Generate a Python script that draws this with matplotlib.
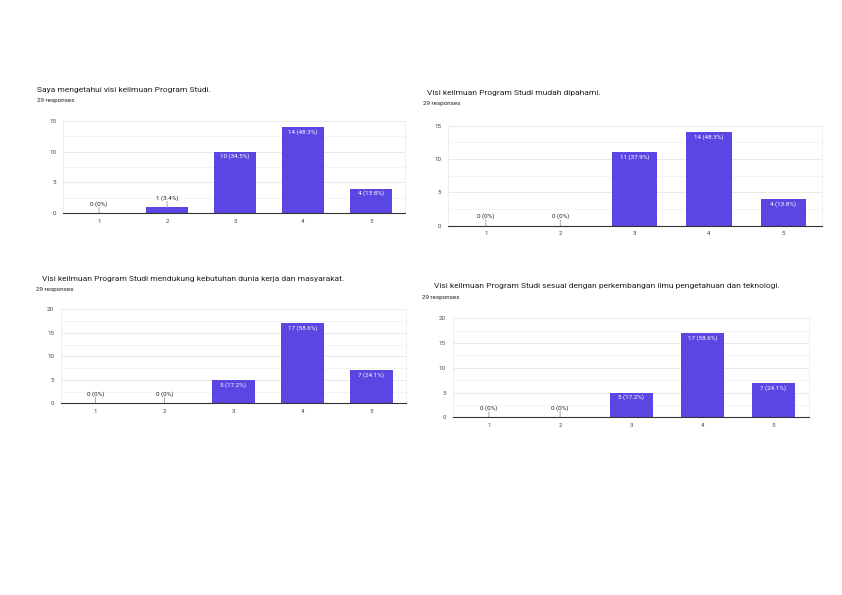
import matplotlib
matplotlib.use("Agg")
import matplotlib.pyplot as plt

W, H = 842, 595

# survey answers (scale 1-5), 29 responses each
categories = [1, 2, 3, 4, 5]
n_responses = 29
titles = [
    "Saya mengetahui visi keilmuan Program Studi.",
    "Visi keilmuan Program Studi mudah dipahami.",
    "Visi keilmuan Program Studi mendukung kebutuhan dunia kerja dan masyarakat.",
    "Visi keilmuan Program Studi sesuai dengan perkembangan ilmu pengetahuan dan teknologi.",
]
counts_q1 = [0, 1, 10, 14, 4]
counts_q2 = [0, 0, 11, 14, 4]
counts_q3 = [0, 0, 5, 17, 7]
counts_q4 = [0, 0, 5, 17, 7]
y_max = [15, 15, 20, 20]

# panel layout in pixels: plot box (left, right, top, bottom), title pos, subtitle pos, xlim
panels = [
    dict(box=(63, 405, 120.7, 213.3), title=(37, 90), sub=(37, 100), xlim=(0.47, 5.5)),
    dict(box=(448, 822, 125.7, 225.7), title=(427, 92.5), sub=(423, 103.5), xlim=(0.49, 5.52)),
    dict(box=(61, 406, 309.3, 403.3), title=(42, 278.5), sub=(36, 289), xlim=(0.5, 5.5)),
    dict(box=(452.7, 809, 318.3, 417.3), title=(434, 286), sub=(422, 297.5), xlim=(0.49, 5.5)),
]
all_counts = [counts_q1, counts_q2, counts_q3, counts_q4]

bar_color = "#5a46e2"
font = "Roboto"

fig = plt.figure(figsize=(W / 100, H / 100), dpi=100)
fig.patch.set_facecolor("white")


def fmt_label(v):
    if v == 0:
        return "0 (0%)"
    return f"{v} ({v / n_responses * 100:.1f}%)"


for p, counts, title, ymax in zip(panels, all_counts, titles, y_max):
    l, r, t, b = p["box"]
    ax = fig.add_axes([l / W, 1 - b / H, (r - l) / W, (b - t) / H])
    ax.bar(categories, counts, width=0.61, color=bar_color, zorder=3)
    ax.set_xlim(*p["xlim"])
    ax.set_ylim(0, ymax)
    ax.set_yticks(range(0, ymax + 1, 5))
    ax.set_yticks([v + 2.5 for v in range(0, ymax, 5)], minor=True)
    ax.set_xticks(categories)
    ax.grid(axis="y", which="major", color="#e6e6e6", lw=0.6, zorder=0)
    ax.grid(axis="y", which="minor", color="#f3f3f3", lw=0.6, zorder=0)
    ax.tick_params(which="both", length=0, labelsize=4.4, labelcolor="#444444")
    ax.tick_params(axis="x", pad=4)
    ax.tick_params(axis="y", pad=5)
    for lab in ax.get_xticklabels() + ax.get_yticklabels():
        lab.set_fontfamily(font)
    for side in ["left", "right", "top"]:
        ax.spines[side].set_color("#ececec")
        ax.spines[side].set_linewidth(0.6)
    ax.spines["bottom"].set_color("#333333")
    ax.spines["bottom"].set_linewidth(0.8)
    ax.spines["bottom"].set_zorder(4)

    px_per_unit = (b - t) / ymax
    for x, v in zip(categories, counts):
        if v * px_per_unit > 14:
            ax.annotate(fmt_label(v), (x, v), xytext=(0, -3.6), textcoords="offset points",
                        ha="center", va="center", fontsize=4.5, color="white",
                        family=font, zorder=5)
        else:
            ax.annotate(fmt_label(v), (x, v), xytext=(0, 6.8), textcoords="offset points",
                        ha="center", va="center", fontsize=4.5, color="#222222",
                        family=font, zorder=5)
            ax.annotate("", (x, v), xytext=(0, 4.3), textcoords="offset points",
                        arrowprops=dict(arrowstyle="-", color="#999999", lw=0.6,
                                        shrinkA=0, shrinkB=0), zorder=4)

    tx, ty = p["title"]
    fig.text(tx / W, 1 - ty / H, title, fontsize=6.0, color="#202124",
             family=font, ha="left", va="center")
    sx, sy = p["sub"]
    fig.text(sx / W, 1 - sy / H, f"{n_responses} responses", fontsize=4.5,
             color="#202124", family=font, ha="left", va="center")

plt.savefig("out.png", dpi=100, facecolor="white")
